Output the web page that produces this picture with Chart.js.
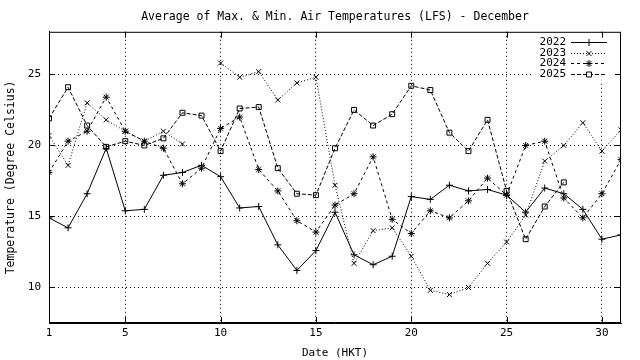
<!DOCTYPE html>
<html>
<head>
<meta charset="utf-8">
<script src="https://cdn.jsdelivr.net/npm/chart.js@4.4.1/dist/chart.umd.min.js"></script>
<style>
	body { margin: 0; background: #fff; }
	canvas { display: block; }
</style>
</head>
<body>
<canvas id="myChart" width="640" height="360"></canvas>
<script>
var days = [1, 2, 3, 4, 5, 6, 7, 8, 9, 10, 11, 12, 13, 14, 15, 16, 17, 18, 19, 20, 21, 22, 23, 24, 25, 26, 27, 28, 29, 30, 31];
var x_ticks = [1, 5, 10, 15, 20, 25, 30];
var y_ticks = [10, 15, 20, 25];

var temps_2022 = [14.9, 14.2, 16.6, 19.8, 15.4, 15.5, 17.9, 18.1, 18.6, 17.8, 15.6, 15.7, 13.0, 11.2, 12.6, 15.3, 12.3, 11.6, 12.2, 16.4, 16.2, 17.2, 16.8, 16.9, 16.5, 15.3, 17.0, 16.6, 15.5, 13.4, 13.7];
var temps_2023 = [20.7, 18.6, 23.0, 21.8, 21.0, 20.3, 21.0, 20.1, null, 25.8, 24.8, 25.2, 23.2, 24.4, 24.8, 17.2, 11.7, 14.0, 14.2, 12.2, 9.8, 9.5, 10.0, 11.7, 13.2, 15.1, 18.9, 20.0, 21.6, 19.6, 21.1];
var temps_2024 = [18.1, 20.3, 21.0, 23.4, 21.0, 20.3, 19.8, 17.3, 18.4, 21.2, 22.0, 18.3, 16.8, 14.7, 13.9, 15.8, 16.6, 19.2, 14.8, 13.8, 15.4, 14.9, 16.1, 17.7, 16.5, 20.0, 20.3, 16.3, 14.9, 16.6, 19.0];
var temps_2025 = [21.9, 24.1, 21.4, 19.9, 20.3, 20.0, 20.5, 22.3, 22.1, 19.6, 22.6, 22.7, 18.4, 16.6, 16.5, 19.8, 22.5, 21.4, 22.2, 24.2, 23.9, 20.9, 19.6, 21.8, 16.8, 13.4, 15.7, 17.4];

var series_names = ["2022", "2023", "2024", "2025"];
var font = "'DejaVu Sans Mono', monospace";

function toPoints(values) {
	return values.map(function (v, i) {
		return { x: days[i], y: v };
	});
}

function makeSet(label, values, style, dash) {
	return {
		label: label,
		data: toPoints(values),
		borderColor: "#000",
		backgroundColor: "#fff",
		borderWidth: 1,
		borderDash: dash,
		pointStyle: style,
		pointRadius: 3.5,
		pointBorderColor: "#000",
		pointBorderWidth: 1,
		pointBackgroundColor: "rgba(0,0,0,0)",
		spanGaps: false,
		tension: 0,
	};
}

// frame, inward ticks and gnuplot-like key
const framePlugin = {
	id: "frame",
	afterDatasetsDraw: function (chart) {
		var ctx = chart.ctx;
		var a = chart.chartArea;
		var xs = chart.scales.x;
		var ys = chart.scales.y;
		ctx.save();

		// key background
		ctx.fillStyle = "#fff";
		ctx.fillRect(534, a.top + 3, a.right - 534 - 6, 46);

		ctx.strokeStyle = "#000";
		ctx.lineWidth = 1;
		ctx.setLineDash([]);
		ctx.strokeRect(a.left + 0.5, a.top + 0.5, a.right - a.left - 1, a.bottom - a.top - 1);

		ctx.beginPath();
		x_ticks.forEach(function (v) {
			var px = Math.round(xs.getPixelForValue(v)) + 0.5;
			ctx.moveTo(px, a.bottom);
			ctx.lineTo(px, a.bottom - 6);
			ctx.moveTo(px, a.top);
			ctx.lineTo(px, a.top + 6);
		});
		y_ticks.forEach(function (v) {
			var py = Math.round(ys.getPixelForValue(v)) + 0.5;
			ctx.moveTo(a.left, py);
			ctx.lineTo(a.left + 6, py);
			ctx.moveTo(a.right, py);
			ctx.lineTo(a.right - 6, py);
		});
		ctx.stroke();

		// key entries
		ctx.font = "11px " + font;
		ctx.textAlign = "right";
		ctx.textBaseline = "middle";
		chart.data.datasets.forEach(function (ds, i) {
			var y = Math.round(a.top + 10 + i * 10.7) + 0.5;
			ctx.fillStyle = "#000";
			ctx.fillText(series_names[i], 566, y);
			ctx.setLineDash(ds.borderDash || []);
			ctx.beginPath();
			ctx.moveTo(571, y);
			ctx.lineTo(607, y);
			ctx.stroke();
			ctx.setLineDash([]);
			ctx.fillStyle = "#fff";
			Chart.helpers.drawPoint(ctx, { pointStyle: ds.pointStyle, radius: 3.5, borderWidth: 1 }, 589, y);
		});
		ctx.restore();
	},
};

const data = {
	datasets: [
		makeSet(series_names[0], temps_2022, "cross", []),
		makeSet(series_names[1], temps_2023, "crossRot", [1, 2]),
		makeSet(series_names[2], temps_2024, "star", [3, 3]),
		makeSet(series_names[3], temps_2025, "rect", [4, 2]),
	],
};

const config = {
	type: "line",
	data: data,
	options: {
		responsive: false,
		animation: false,
		layout: { padding: { right: 19 } },
		plugins: {
			legend: { display: false },
			tooltip: { enabled: false },
			title: {
				display: true,
				text: "Average of Max. & Min. Air Temperatures (LFS) - December",
				fullSize: false,
				color: "#000",
				font: { family: font, size: 11.5, weight: "normal" },
				padding: { top: 10, bottom: 8 },
			},
		},
		scales: {
			x: {
				type: "linear",
				min: 1,
				max: 31,
				afterBuildTicks: function (scale) {
					scale.ticks = x_ticks.map(function (v) { return { value: v }; });
				},
				afterFit: function (scale) { scale.height = 37; },
				ticks: {
					color: "#000",
					font: { family: font, size: 11 },
					padding: 4,
					maxRotation: 0,
					autoSkip: false,
				},
				grid: { color: "#000", lineWidth: 1, drawTicks: false },
				border: { display: true, color: "#000", dash: [1, 3] },
				title: {
					display: true,
					text: "Date (HKT)",
					color: "#000",
					font: { family: font, size: 11 },
					padding: { top: 3, bottom: 0 },
				},
			},
			y: {
				min: 7.5,
				max: 28,
				afterBuildTicks: function (scale) {
					scale.ticks = y_ticks.map(function (v) { return { value: v }; });
				},
				afterFit: function (scale) { scale.width = 49; },
				ticks: {
					color: "#000",
					font: { family: font, size: 11 },
					padding: 8,
				},
				grid: { color: "#000", lineWidth: 1, drawTicks: false },
				border: { display: true, color: "#000", dash: [1, 3] },
				title: {
					display: true,
					text: "Temperature (Degree Celsius)",
					color: "#000",
					font: { family: font, size: 11.5 },
					padding: { top: 4, bottom: 0 },
				},
			},
		},
	},
	plugins: [framePlugin],
};

const myChart = new Chart(document.getElementById("myChart"), config);
</script>
</body>
</html>
